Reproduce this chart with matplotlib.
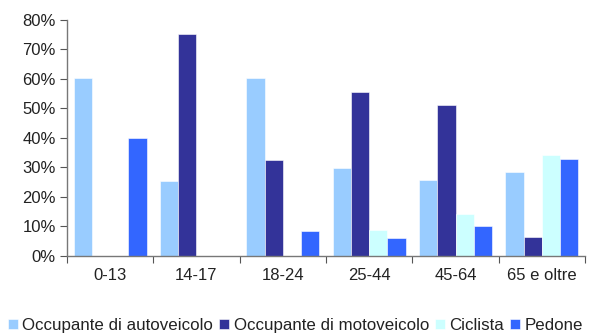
import matplotlib
matplotlib.use("Agg")
import matplotlib.pyplot as plt
import numpy as np
from matplotlib.ticker import FuncFormatter, FixedLocator

plt.rcParams['font.family'] = ['Liberation Sans', 'DejaVu Sans']

age_groups = ["0-13", "14-17", "18-24", "25-44", "45-64", "65 e oltre"]
series_names = ["Occupante di autoveicolo", "Occupante di motoveicolo", "Ciclista", "Pedone"]
auto = [60.2, 25.4, 60.2, 29.8, 25.6, 28.3]
moto = [0.0, 75.2, 32.4, 55.6, 51.2, 6.3]
ciclista = [0.0, 0.0, 0.0, 8.9, 14.3, 34.1]
pedone = [40.0, 0.0, 8.3, 6.2, 10.0, 33.0]
colors = ["#99CCFF", "#333399", "#CCFFFF", "#3366FF"]

W, H = 593, 333
fig = plt.figure(figsize=(W / 100, H / 100), dpi=100)
ax = fig.add_axes([67 / W, 1 - 256 / H, (585 - 67) / W, (256 - 19.7) / H])

n = len(age_groups)
centers = np.arange(n) + 0.5
bw = 0.212
all_series = [auto, moto, ciclista, pedone]
for k, (vals, col, name) in enumerate(zip(all_series, colors, series_names)):
    ax.bar(centers + (k - 1.5) * bw, vals, width=bw, color=col, label=name,
           edgecolor="white", linewidth=0.4)

ax.set_xlim(0, n)
ax.set_ylim(0, 80)
ax.yaxis.set_major_locator(FixedLocator(np.arange(0, 81, 10)))
ax.yaxis.set_major_formatter(FuncFormatter(lambda v, p: f"{v:.0f}%"))

ax.xaxis.set_major_locator(FixedLocator(np.arange(0, n + 1)))
ax.xaxis.set_major_formatter(FuncFormatter(lambda v, p: ""))
ax.xaxis.set_minor_locator(FixedLocator(centers))
ax.set_xticklabels(age_groups, minor=True)
ax.tick_params(axis="x", which="minor", length=0, pad=9, labelsize=12, labelcolor="#222222")
ax.tick_params(axis="x", which="major", length=5, color="#555555", direction="out")
ax.tick_params(axis="y", length=5, color="#555555", labelsize=12, pad=3, labelcolor="#222222")

for s in ["top", "right"]:
    ax.spines[s].set_visible(False)
for s in ["left", "bottom"]:
    ax.spines[s].set_color("#777777")
    ax.spines[s].set_linewidth(1.0)

fig.legend(loc="center left", bbox_to_anchor=(8 / W, 1 - 325.5 / H), ncol=4, frameon=False,
           fontsize=12.2, handlelength=0.6, handleheight=0.6, handletextpad=0.25,
           columnspacing=0.35, borderaxespad=0.0, borderpad=0.0, labelcolor="#222222")

fig.savefig("out.png", dpi=100)
